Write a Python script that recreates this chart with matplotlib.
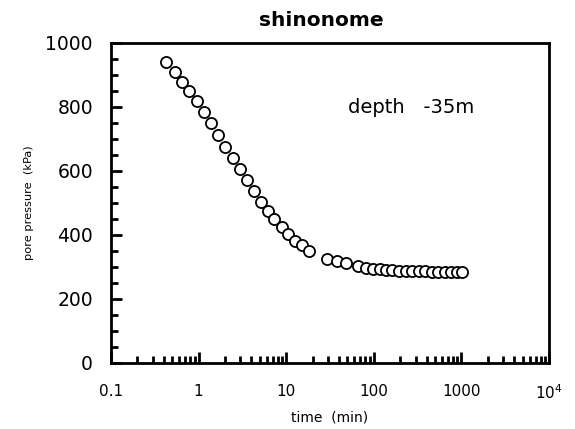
import numpy as np
import matplotlib
matplotlib.use('Agg')
import matplotlib.pyplot as plt
from matplotlib.ticker import FixedLocator, LogLocator, MultipleLocator, NullFormatter

plt.rcParams['font.family'] = ['DejaVu Sans']
plt.rcParams['mathtext.default'] = 'regular'

# elapsed time (min) and pore pressure (kPa)
time_min = [0.43, 0.54, 0.65, 0.78, 0.95, 1.16, 1.40, 1.66, 2.02, 2.45,
            2.97, 3.54, 4.26, 5.15, 6.25, 7.26, 8.89, 10.6, 12.6, 15.3, 18.2,
            29.2, 38.0, 48.2, 65.2, 80.4, 96.6, 116, 138, 163, 194,
            230, 273, 324, 384, 456, 541, 641, 760, 891, 1016]
pressure = [940, 910, 879, 850, 819, 784, 749, 712, 676, 641,
            606, 572, 538, 504, 476, 450, 426, 403, 382, 367, 351,
            326, 318, 311, 302, 297, 294, 292, 290, 289, 288,
            287, 287, 286, 286, 285, 285, 285, 285, 285, 285]

xtick_pos = [0.1, 1, 10, 100, 1000, 10000]
xtick_labels = ['0.1', '1', '10', '100', '1000', r'$10^4$']
ytick_pos = [0, 200, 400, 600, 800, 1000]

fig = plt.figure(figsize=(5.75, 4.29), dpi=100)
ax = fig.add_axes([0.193, 0.154, 0.762, 0.746])

ax.plot(time_min, pressure, 'o', mfc='white', mec='black', ms=8, mew=1.3)

ax.set_xscale('log')
ax.set_xlim(0.1, 10000)
ax.set_ylim(0, 1000)

ax.xaxis.set_major_locator(FixedLocator(xtick_pos))
ax.xaxis.set_minor_locator(LogLocator(base=10, subs=np.arange(2, 10)))
ax.xaxis.set_minor_formatter(NullFormatter())
ax.set_xticklabels(xtick_labels, fontsize=11)
ax.yaxis.set_major_locator(FixedLocator(ytick_pos))
ax.yaxis.set_minor_locator(MultipleLocator(50))
ax.set_yticklabels([str(v) for v in ytick_pos], fontsize=13.5)

ax.tick_params(which='both', direction='in', width=2, top=False, right=False)
ax.tick_params(which='major', length=8)
ax.tick_params(which='minor', length=5)
ax.tick_params(axis='x', which='major', pad=15)
ax.tick_params(axis='y', which='major', pad=13)
for s in ax.spines.values():
    s.set_linewidth(2)

ax.set_title('shinonome', fontsize=14.5, fontweight='bold', pad=12, x=0.48)
ax.set_xlabel('time  (min)', fontsize=10, labelpad=6)
ax.set_ylabel('pore pressure  (kPa)', fontsize=8.2, labelpad=8)
ax.text(0.541, 0.78, 'depth   -35m', transform=ax.transAxes, fontsize=14,
        va='baseline')

fig.savefig('out.png', dpi=100)
